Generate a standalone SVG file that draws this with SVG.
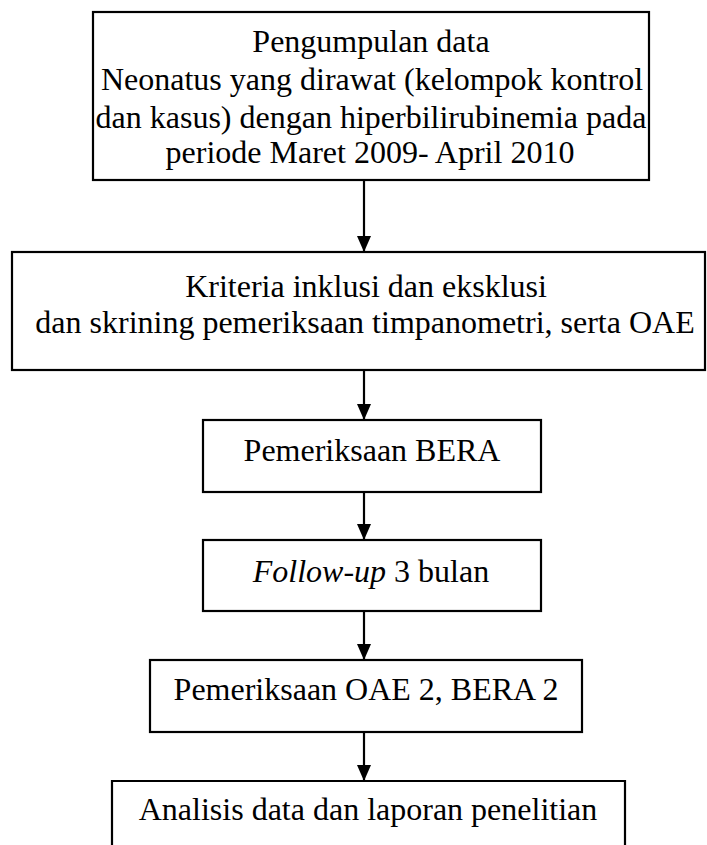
<svg xmlns="http://www.w3.org/2000/svg" width="707" height="845" viewBox="0 0 707 845">
<style>
.box{fill:#fff;stroke:#000;stroke-width:2.2}
.t{font-family:"Liberation Serif","Times New Roman",serif;font-size:32px;fill:#000;text-anchor:middle}
.c{stroke:#000;stroke-width:2.2;fill:none}
</style>
<defs>
<marker id="ah" viewBox="0 0 16 14" refX="16" refY="7" markerWidth="16" markerHeight="14" markerUnits="userSpaceOnUse" orient="auto">
<path d="M0,0 L16,7 L0,14 Z" fill="#000"/>
</marker>
</defs>
<rect width="707" height="845" fill="#fff"/>
<g id="n1">
<rect class="box" x="93" y="12" width="556" height="168"/>
<text class="t" x="371" y="52">Pengumpulan data</text>
<text class="t" x="372" y="90">Neonatus yang dirawat (kelompok kontrol</text>
<text class="t" x="371" y="128">dan kasus) dengan hiperbilirubinemia pada</text>
<text class="t" x="370" y="163">periode Maret 2009- April 2010</text>
</g>
<g id="n2">
<rect class="box" x="12" y="252" width="693" height="118"/>
<text class="t" x="366" y="297">Kriteria inklusi dan eksklusi</text>
<text class="t" x="365" y="333">dan skrining pemeriksaan timpanometri, serta OAE</text>
</g>
<g id="n3">
<rect class="box" x="203" y="420" width="338" height="72"/>
<text class="t" x="372" y="461">Pemeriksaan BERA</text>
</g>
<g id="n4">
<rect class="box" x="203" y="540" width="338" height="71"/>
<text class="t" x="371" y="582"><tspan font-style="italic">Follow-up</tspan> 3 bulan</text>
</g>
<g id="n5">
<rect class="box" x="150" y="660" width="432" height="72"/>
<text class="t" x="366" y="700">Pemeriksaan OAE 2, BERA 2</text>
</g>
<g id="n6">
<path class="box" d="M112,850 L112,781 L625,781 L625,850"/>
<text class="t" x="368" y="820">Analisis data dan laporan penelitian</text>
</g>
<g id="connectors">
<line class="c" x1="364" y1="180" x2="364" y2="252" marker-end="url(#ah)"/>
<line class="c" x1="364" y1="370" x2="364" y2="420" marker-end="url(#ah)"/>
<line class="c" x1="364" y1="492" x2="364" y2="540" marker-end="url(#ah)"/>
<line class="c" x1="364" y1="611" x2="364" y2="660" marker-end="url(#ah)"/>
<line class="c" x1="364" y1="732" x2="364" y2="781" marker-end="url(#ah)"/>
</g>
</svg>
